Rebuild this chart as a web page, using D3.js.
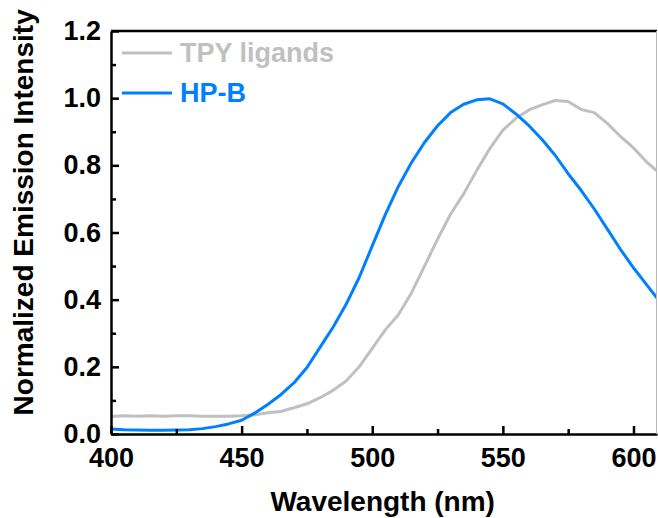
<!DOCTYPE html>
<html>
<head>
    <title>Normalized Emission Spectra</title>
    <script src="https://d3js.org/d3.v7.min.js"></script>
    <style>
        body { margin: 0; background: #fff; }
        text { font-family: "Liberation Sans", Arial, sans-serif; font-weight: bold; }
    </style>
</head>
<body>
    <script>
        // Wavelengths (nm) and normalized intensities
        const wavelength = [400, 405, 410, 415, 420, 425, 430, 435, 440, 445,
                            450, 455, 460, 465, 470, 475, 480, 485, 490, 495,
                            500, 505, 510, 515, 520, 525, 530, 535, 540, 545,
                            550, 555, 560, 565, 570, 575, 580, 585, 590, 595,
                            600, 605, 609];
        const tpyLigands = [0.052, 0.054, 0.053, 0.054, 0.053, 0.054, 0.054, 0.053, 0.053, 0.053,
                            0.054, 0.057, 0.063, 0.067, 0.078, 0.090, 0.108, 0.130, 0.158, 0.200,
                            0.255, 0.310, 0.355, 0.420, 0.500, 0.580, 0.655, 0.715, 0.785, 0.850,
                            0.905, 0.940, 0.965, 0.980, 0.993, 0.990, 0.966, 0.957, 0.925, 0.886,
                            0.852, 0.810, 0.783];
        const hpB = [0.015, 0.013, 0.012, 0.011, 0.011, 0.012, 0.013, 0.016, 0.022, 0.030,
                     0.041, 0.062, 0.088, 0.117, 0.152, 0.198, 0.258, 0.318, 0.386, 0.466,
                     0.560, 0.653, 0.737, 0.808, 0.868, 0.918, 0.957, 0.982, 0.995, 0.998,
                     0.983, 0.953, 0.918, 0.877, 0.830, 0.775, 0.725, 0.670, 0.610, 0.550,
                     0.495, 0.445, 0.405];
        const seriesNames = ["TPY ligands", "HP-B"];
        const seriesColors = ["#c0c0c0", "#0080ff"];
        const xTicks = [400, 450, 500, 550, 600];
        const xMinorTicks = [425, 475, 525, 575];
        const yTicks = [0.0, 0.2, 0.4, 0.6, 0.8, 1.0, 1.2];
        const yMinorTicks = [0.1, 0.3, 0.5, 0.7, 0.9, 1.1];

        const margin = {top: 31, right: 1, bottom: 84, left: 111},
            width = 658 - margin.left - margin.right,
            height = 518 - margin.top - margin.bottom;

        const svg = d3.select("body")
          .append("svg")
            .attr("width", width + margin.left + margin.right)
            .attr("height", height + margin.top + margin.bottom)
          .append("g")
            .attr("transform", `translate(${margin.left},${margin.top})`);

        const x = d3.scaleLinear()
          .domain([400, 609])
          .range([0, width]);

        const y = d3.scaleLinear()
          .domain([0, 1.2])
          .range([height, 0]);

        svg.append("clipPath")
            .attr("id", "clip")
          .append("rect")
            .attr("width", width)
            .attr("height", height);

        // curves
        const series = [tpyLigands, hpB];
        series.forEach(function(vals, i) {
            svg.append("path")
              .datum(wavelength)
              .attr("clip-path", "url(#clip)")
              .attr("fill", "none")
              .attr("stroke", seriesColors[i])
              .attr("stroke-width", 3)
              .attr("stroke-linejoin", "round")
              .attr("d", d3.line()
                .x(function(d) { return x(d) })
                .y(function(d, j) { return y(vals[j]) })
              );
        });

        // X axis (ticks pointing inward)
        svg.append("g")
          .attr("transform", `translate(0, ${height})`)
          .call(d3.axisBottom(x).tickValues(xTicks).tickSize(-8).tickSizeOuter(0).tickPadding(14));
        svg.append("g")
          .attr("transform", `translate(0, ${height})`)
          .call(d3.axisBottom(x).tickValues(xMinorTicks).tickSize(-5).tickFormat(""))
          .call(g => g.select(".domain").remove());

        // Y axis
        svg.append("g")
          .call(d3.axisLeft(y).tickValues(yTicks).tickSize(-8).tickSizeOuter(0).tickPadding(10)
            .tickFormat(d3.format(".1f")));
        svg.append("g")
          .call(d3.axisLeft(y).tickValues(yMinorTicks).tickSize(-5).tickFormat(""))
          .call(g => g.select(".domain").remove());

        svg.selectAll(".tick line").attr("stroke", "#000").attr("stroke-width", 2.5);
        svg.selectAll(".domain").attr("stroke", "#000").attr("stroke-width", 2.5);
        svg.selectAll(".tick text")
          .attr("fill", "#000")
          .style("font-size", "27px");

        // top border and right edge
        svg.append("line")
          .attr("x1", 0).attr("x2", width)
          .attr("y1", 0).attr("y2", 0)
          .attr("stroke", "#000").attr("stroke-width", 2.5);
        svg.append("line")
          .attr("x1", width - 0.5).attr("x2", width - 0.5)
          .attr("y1", 0).attr("y2", height)
          .attr("stroke", "#b8b8b8").attr("stroke-width", 1);

        // X axis title
        svg.append("text")
          .attr("x", x(504))
          .attr("y", height + 77)
          .style("text-anchor", "middle")
          .style("font-size", "28px")
          .text("Wavelength (nm)");

        // Y axis title
        svg.append("text")
          .attr("transform", "rotate(-90)")
          .attr("x", -(y(0.66)))
          .attr("y", 33 - margin.left)
          .style("text-anchor", "middle")
          .style("font-size", "28px")
          .text("Normalized Emission Intensity");

        // legend
        seriesNames.forEach(function(name, i) {
            const ly = 22 + i * 40;
            svg.append("line")
              .attr("x1", 11).attr("x2", 61)
              .attr("y1", ly).attr("y2", ly)
              .attr("stroke", seriesColors[i])
              .attr("stroke-width", 3);
            svg.append("text")
              .attr("x", 69)
              .attr("y", ly + 9)
              .style("fill", seriesColors[i])
              .style("font-size", "27px")
              .text(name);
        });
    </script>
</body>
</html>
